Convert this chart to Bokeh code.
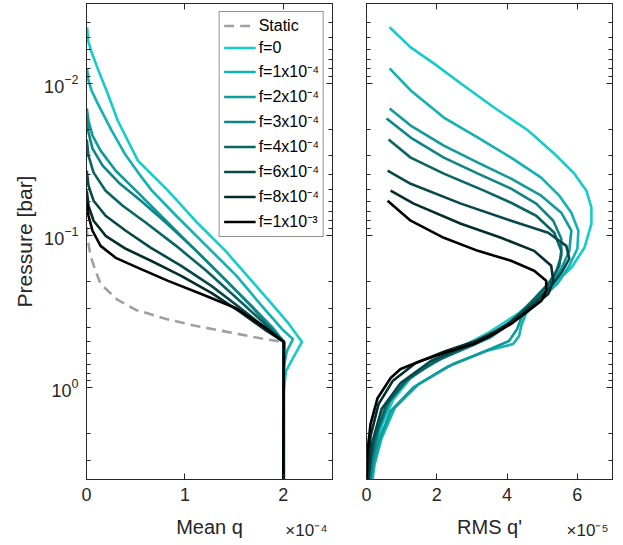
from bokeh.plotting import figure
from bokeh.models import (Range1d, FixedTicker, LogAxis, LinearAxis, Legend,
                          LegendItem, Label, CustomJSTickFormatter)
from bokeh.layouts import row
from bokeh.embed import file_html
from bokeh.resources import INLINE

# ---------------- data ----------------
labels = ["f=0", "f=1x10⁻⁴", "f=2x10⁻⁴", "f=3x10⁻⁴", "f=4x10⁻⁴",
          "f=6x10⁻⁴", "f=8x10⁻⁴", "f=1x10⁻³"]
colors = ["#14CCCC", "#12B2B2", "#109A9A", "#0E8585", "#0A6464",
          "#074848", "#042E2E", "#000000"]

# static profile (mean q in 1e-4, pressure in bar)
static_q = [0.0, 0.015, 0.041, 0.092, 0.143, 0.317, 0.502, 0.809, 1.116, 1.443, 1.781, 1.996]
static_p = [0.0877, 0.1084, 0.1361, 0.1706, 0.208, 0.265, 0.308, 0.353, 0.393, 0.431, 0.475, 0.50]

# mean q (x 1e-4) vs pressure (bar)
mq_f0 = [0.007, 0.015, 0.046, 0.113, 0.215, 0.317, 0.522, 0.829, 1.105, 1.412, 1.679, 1.883, 2.057, 2.190, 2.098, 2.027, 2.006, 2.006]
mp_f0 = [0.00430, 0.00524, 0.00610, 0.00800, 0.0117, 0.01758, 0.03228, 0.0508, 0.0800, 0.1262, 0.1986, 0.2813, 0.381, 0.500, 0.638, 0.776, 1.05, 4.0]
mq_f1 = [0.005, 0.020, 0.051, 0.113, 0.256, 0.389, 0.563, 0.665, 0.911, 1.218, 1.525, 1.781, 1.986, 2.098, 2.037, 2.006, 2.006]
mp_f1 = [0.0080, 0.0096, 0.01117, 0.01358, 0.02047, 0.02904, 0.04172, 0.0508, 0.0742, 0.1170, 0.1841, 0.2900, 0.411, 0.479, 0.574, 0.720, 4.0]
mq_f2 = [0.003, 0.020, 0.061, 0.143, 0.297, 0.502, 0.757, 1.064, 1.372, 1.679, 1.904, 2.006, 2.0]
mp_f2 = [0.01466, 0.01758, 0.02208, 0.02773, 0.03758, 0.0508, 0.0742, 0.1170, 0.1841, 0.2900, 0.411, 0.500, 4.0]
mq_f3 = [0.003, 0.020, 0.061, 0.164, 0.328, 0.553, 0.809, 1.116, 1.423, 1.699, 1.904, 2.006, 2.0]
mp_f3 = [0.01706, 0.02110, 0.02692, 0.03483, 0.04500, 0.05912, 0.0825, 0.1262, 0.1986, 0.3036, 0.4239, 0.500, 4.0]
mq_f4 = [0.003, 0.020, 0.072, 0.194, 0.368, 0.604, 0.911, 1.218, 1.525, 1.781, 2.006, 2.0]
mp_f4 = [0.02345, 0.02990, 0.03866, 0.0508, 0.0638, 0.0825, 0.1170, 0.1706, 0.2570, 0.3642, 0.500, 4.0]
mq_f6 = [0.003, 0.020, 0.072, 0.194, 0.399, 0.655, 0.962, 1.269, 1.576, 1.832, 2.006, 2.0]
mp_f6 = [0.03758, 0.0471, 0.05912, 0.0742, 0.0931, 0.1205, 0.1582, 0.2143, 0.3036, 0.411, 0.500, 4.0]
mq_f8 = [0.003, 0.020, 0.072, 0.194, 0.399, 0.655, 0.962, 1.269, 1.576, 1.832, 2.006, 2.0]
mp_f8 = [0.0508, 0.0638, 0.0800, 0.1005, 0.1223, 0.1466, 0.1841, 0.2382, 0.3226, 0.4239, 0.500, 4.0]
mq_f10 = [0.005, 0.020, 0.061, 0.143, 0.297, 0.502, 0.829, 1.167, 1.515, 1.822, 2.006, 2.0]
mp_f10 = [0.05912, 0.0742, 0.0931, 0.1170, 0.1402, 0.1607, 0.1986, 0.2420, 0.2990, 0.4046, 0.500, 4.0]

# RMS q' (x 1e-5) vs pressure (bar)
rq_f0 = [0.657, 1.257, 1.914, 2.686, 3.629, 4.6, 5.343, 5.914, 6.257, 6.4, 6.4, 6.2, 5.829, 5.343, 4.886, 4.314, 3.743, 3.4, 2.971, 2.4, 1.829, 1.257, 0.771, 0.457, 0.257, 0.143, 0.086]
rp_f0 = [0.00430, 0.00582, 0.00742, 0.01005, 0.01445, 0.02047, 0.02904, 0.03928, 0.0508, 0.0657, 0.0838, 0.1205, 0.163, 0.208, 0.257, 0.3255, 0.396, 0.4435, 0.50, 0.582, 0.687, 0.863, 1.186, 1.708, 2.49, 3.37, 4.0]
rq_f1 = [0.657, 1.257, 2.2, 3.171, 4.114, 4.971, 5.486, 5.829, 6.029, 6.0, 5.771, 5.429, 4.971, 4.543, 4.4, 4.343, 4.171, 3.4, 2.457, 1.486, 0.8, 0.429, 0.229, 0.171]
rp_f1 = [0.0080, 0.01117, 0.01682, 0.02277, 0.03083, 0.04172, 0.0548, 0.0709, 0.0931, 0.1222, 0.1582, 0.208, 0.261, 0.3226, 0.3929, 0.4573, 0.516, 0.574, 0.698, 0.9455, 1.36, 2.14, 3.18, 4.0]
rq_f2 = [0.657, 1.257, 2.2, 3.171, 4.114, 4.971, 5.543, 5.829, 5.771, 5.543, 5.257, 4.829, 4.457, 4.286, 4.057, 3.257, 2.286, 1.343, 0.686, 0.343, 0.171, 0.114]
rp_f2 = [0.01466, 0.01898, 0.0257, 0.03326, 0.04236, 0.0548, 0.0709, 0.0931, 0.1262, 0.1656, 0.208, 0.261, 0.3226, 0.411, 0.493, 0.5916, 0.731, 0.989, 1.423, 2.244, 3.27, 4.0]
rq_f3 = [0.571, 1.257, 2.2, 3.171, 4.114, 4.829, 5.314, 5.543, 5.543, 5.4, 5.171, 4.771, 4.4, 3.971, 3.543, 2.971, 2.114, 1.257, 0.686, 0.343, 0.171, 0.114]
rp_f3 = [0.01706, 0.02277, 0.03083, 0.03928, 0.0493, 0.0618, 0.0800, 0.1051, 0.1361, 0.1706, 0.208, 0.261, 0.3226, 0.396, 0.4638, 0.532, 0.6475, 0.8375, 1.186, 1.87, 2.94, 4.0]
rq_f4 = [0.629, 1.257, 2.2, 3.343, 4.114, 4.829, 5.343, 5.543, 5.486, 5.257, 4.829, 4.4, 3.971, 3.486, 2.829, 1.971, 1.114, 0.543, 0.257, 0.086, 0.057]
rp_f4 = [0.02345, 0.03083, 0.03928, 0.0508, 0.0610, 0.0742, 0.0960, 0.1262, 0.1582, 0.1986, 0.253, 0.3177, 0.3929, 0.4638, 0.5397, 0.667, 0.9036, 1.319, 2.08, 3.27, 4.0]
rq_f6 = [0.6, 1.257, 2.686, 4.114, 5.171, 5.686, 5.771, 5.543, 5.257, 4.886, 4.457, 3.971, 3.4, 2.686, 1.829, 0.971, 0.429, 0.171, 0.057]
rp_f6 = [0.03758, 0.0458, 0.0618, 0.0800, 0.0960, 0.1170, 0.1423, 0.1760, 0.2143, 0.261, 0.3177, 0.3869, 0.4638, 0.548, 0.667, 0.931, 1.38, 2.244, 4.0]
rq_f8 = [0.686, 1.343, 2.686, 3.829, 4.771, 5.257, 5.314, 5.171, 4.829, 4.257, 3.686, 3.114, 2.257, 1.4, 0.743, 0.343, 0.114, 0.029]
rp_f8 = [0.0508, 0.0618, 0.0838, 0.1035, 0.1262, 0.1582, 0.1986, 0.242, 0.2813, 0.353, 0.4239, 0.493, 0.574, 0.687, 0.9036, 1.28, 2.08, 4.0]
rq_f10 = [0.6, 1.257, 2.2, 3.171, 4.114, 4.771, 5.114, 5.114, 4.971, 4.6, 4.114, 3.629, 3.057, 2.2, 1.543, 0.971, 0.686, 0.314, 0.114, 0.029, 0.0]
rp_f10 = [0.0591, 0.0800, 0.1036, 0.1262, 0.1466, 0.1706, 0.1986, 0.2312, 0.2692, 0.3129, 0.381, 0.443, 0.516, 0.5916, 0.667, 0.753, 0.863, 1.17, 1.73, 2.61, 4.0]

mean_series = [(mq_f0, mp_f0), (mq_f1, mp_f1), (mq_f2, mp_f2), (mq_f3, mp_f3),
               (mq_f4, mp_f4), (mq_f6, mp_f6), (mq_f8, mp_f8), (mq_f10, mp_f10)]
rms_series = [(rq_f0, rp_f0), (rq_f1, rp_f1), (rq_f2, rp_f2), (rq_f3, rp_f3),
              (rq_f4, rp_f4), (rq_f6, rp_f6), (rq_f8, rp_f8), (rq_f10, rp_f10)]

y_major = [0.01, 0.1, 1.0]
y_minor = [0.003, 0.004, 0.005, 0.006, 0.007, 0.008, 0.009,
           0.02, 0.03, 0.04, 0.05, 0.06, 0.07, 0.08, 0.09,
           0.2, 0.3, 0.4, 0.5, 0.6, 0.7, 0.8, 0.9, 2.0, 3.0, 4.0]
x_ticks_mean = [0, 1, 2]
x_ticks_rms = [0, 2, 4, 6]

# ---------------- style ----------------
FONT = "Liberation Sans"
AX = "#262626"
TICK_FS = "18px"
LABEL_FS = "21px"
LW = 2.6


def style_axis(ax, show_labels=True):
    ax.axis_line_color = AX
    ax.axis_line_width = 1
    ax.major_tick_line_color = AX
    ax.minor_tick_line_color = AX
    ax.major_tick_in = 6
    ax.major_tick_out = 0
    ax.minor_tick_in = 4
    ax.minor_tick_out = 0
    ax.major_label_text_font = FONT
    ax.major_label_text_color = AX
    ax.major_label_text_font_size = TICK_FS
    ax.axis_label_text_font = FONT
    ax.axis_label_text_font_size = LABEL_FS
    ax.axis_label_text_font_style = "normal"
    ax.axis_label_text_color = AX
    if not show_labels:
        ax.formatter = CustomJSTickFormatter(code="return ''")
        ax.major_label_standoff = 0


y_range = Range1d(4.0, 0.003)


def make_fig(width, x_end, xticks, border_left, border_right, left_labels):
    p = figure(width=width, height=545, y_axis_type="log",
               x_range=Range1d(0, x_end), y_range=y_range,
               output_backend="svg", toolbar_location=None,
               min_border_left=border_left, min_border_right=border_right,
               min_border_top=3, min_border_bottom=66)
    p.xgrid.visible = False
    p.ygrid.visible = False
    p.outline_line_color = AX
    p.background_fill_color = "white"
    p.border_fill_color = "white"
    bottom = p.below[0]
    left = p.left[0]
    bottom.ticker = FixedTicker(ticks=xticks)
    left.ticker = FixedTicker(ticks=y_major, minor_ticks=y_minor)
    style_axis(bottom, True)
    style_axis(left, left_labels)
    bottom.major_label_standoff = 8
    left.major_label_standoff = 8
    top = LinearAxis(ticker=FixedTicker(ticks=xticks))
    right = LogAxis(ticker=FixedTicker(ticks=y_major, minor_ticks=y_minor))
    style_axis(top, False)
    style_axis(right, False)
    p.add_layout(top, "above")
    p.add_layout(right, "right")
    return p, bottom, left


def bottom_texts(p, x_mid, title, x_right, power):
    # x-axis title and exponent, kept in the side panel below the frame
    # (side panels are not clipped); positioned through the plot's scales
    p.add_layout(Label(x=x_mid, y=8.14, text=title, text_align="center",
                       text_baseline="middle", text_font=FONT,
                       text_font_size="20px", text_color=AX), "below")
    p.add_layout(Label(x=x_right, y=8.65, text="×10" + power,
                       text_align="right", text_baseline="middle",
                       text_font=FONT, text_font_size="17px",
                       text_color=AX), "below")


# ---------------- left panel ----------------
p1, b1, l1 = make_fig(340, 2.5, x_ticks_mean, 86, 8, True)
l1.axis_label = "Pressure [bar]"

items = []
r = p1.line(static_q, static_p, line_color="#A0A0A0", line_width=LW,
            line_dash="10 6")
items.append(LegendItem(label="Static", renderers=[r]))
for (q, pr), c, lab in zip(mean_series, colors, labels):
    r = p1.line(q, pr, line_color=c, line_width=LW, line_join="round")
    items.append(LegendItem(label=lab, renderers=[r]))

legend = Legend(items=items, location="top_right", margin=8, padding=4,
                spacing=3, glyph_width=32, glyph_height=19, label_height=19,
                label_standoff=3, label_text_font=FONT,
                label_text_font_size="16px", label_text_color="black",
                border_line_color=AX, border_line_width=1,
                background_fill_color="white", background_fill_alpha=1.0)
p1.add_layout(legend)
bottom_texts(p1, 1.25, "Mean q", 2.449, "⁻⁴")

# ---------------- right panel ----------------
p2, b2, l2 = make_fig(283, 7.0, x_ticks_rms, 26, 11, False)

for (q, pr), c in zip(rms_series, colors):
    p2.line(q, pr, line_color=c, line_width=LW, line_join="round")
bottom_texts(p2, 3.5, "RMS q'", 6.886, "⁻⁵")

layout = row(p1, p2)
open("out.html", "w").write(file_html(layout, INLINE))
